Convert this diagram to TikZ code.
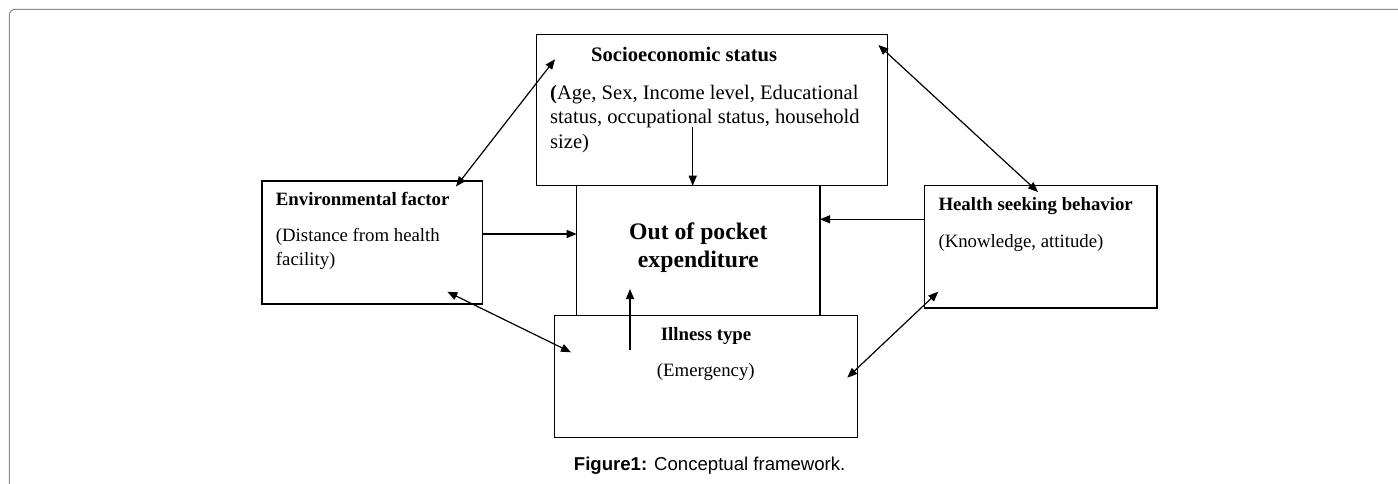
\documentclass[tikz,border=0pt]{standalone}
\usepackage{fontspec}
\setmainfont{Liberation Serif}
\newfontfamily\capfont{Liberation Sans}
\usetikzlibrary{arrows.meta}
\begin{document}
\begin{tikzpicture}[x=1pt,y=-1pt,
  box/.style={draw, line width=1.2pt, inner sep=0, outer sep=0, anchor=north west},
  conn/.style={line width=1.2pt, -{Triangle[length=10pt,width=8pt]}},
  biconn/.style={line width=1.2pt, {Triangle[length=10pt,width=8pt]}-{Triangle[length=10pt,width=8pt]}},
  txt/.style={anchor=base west, inner sep=0, font=\fontsize{18.8}{22}\selectfont},
  ttl/.style={anchor=base west, inner sep=0, font=\fontsize{18.8}{22}\selectfont\bfseries},
  stxt/.style={anchor=base west, inner sep=0, font=\fontsize{20.6}{24}\selectfont},
  sttl/.style={anchor=base west, inner sep=0, font=\fontsize{20.6}{24}\selectfont\bfseries},
  big/.style={anchor=base, inner sep=0, font=\fontsize{23.7}{28}\selectfont\bfseries},
  captxt/.style={anchor=base west, inner sep=0, font=\fontsize{18.6}{22}\capfont}
]
\useasboundingbox (0,0) rectangle (1398,484);
% outer frame
\draw[draw=gray!90, line width=1pt, rounded corners=6pt] (9.3,490) -- (9.3,9.3) -- (1405,9.3);

% boxes
\node[box, minimum width=243.3pt, minimum height=129.6pt] (oop) at (576.7,185.7) {};
\node[box, minimum width=351pt, minimum height=151.4pt] (socio) at (536.7,34.3) {};
\node[box, minimum width=220.3pt, minimum height=123pt] (env) at (262,181) {};
\node[box, minimum width=232.7pt, minimum height=122.3pt] (health) at (924.3,185.7) {};
\node[box, minimum width=303.2pt, minimum height=122.4pt] (ill) at (554.5,315.3) {};

% texts
\node[sttl] (socioT) at (591,61.7) {Socioeconomic status};
\node[stxt] (socio1) at (550,99.3) {\textbf{(}Age, Sex, Income level, Educational};
\node[stxt] (socio2) at (550,124) {status, occupational status, household};
\node[stxt] (socio3) at (550,148.3) {size)};

\node[ttl] (envT) at (275.7,205) {Environmental factor};
\node[txt] (env1) at (275.7,241.7) {(Distance from health};
\node[txt] (env2) at (275.7,265) {facility)};

\node[ttl] (healthT) at (938.3,210) {Health seeking behavior};
\node[txt] (health1) at (938.3,247.3) {(Knowledge, attitude)};

\node[ttl] (illT) at (660.7,340) {Illness type};
\node[txt] (ill1) at (656.7,376.5) {(Emergency)};

\node[big] (oop1) at (698.3,239.3) {Out of pocket};
\node[big] (oop2) at (698.3,267.3) {expenditure};

\node[captxt] (caption) at (573.7,470) {\textbf{Figure1:} Conceptual framework.};

% connector end points
\coordinate (a1) at (456,186.5);
\coordinate (a2) at (555,59.3);
\coordinate (b1) at (878.4,45);
\coordinate (b2) at (1038,192);
\coordinate (c1) at (692.7,126.7);
\coordinate (d1) at (630,350);
\coordinate (d2) at (630,289);
\coordinate (e1) at (447.3,291.7);
\coordinate (e2) at (571,352.3);
\coordinate (f1) at (847.3,377.7);
\coordinate (f2) at (938.3,291.7);

% connectors
\draw[biconn] (a2) -- (a1);
\draw[biconn] (b1) -- (b2);
\draw[conn] (c1) -- (c1 |- socio.south);
\draw[conn] (env.east |- 0,234) -- (oop.west |- 0,234);
\draw[conn] (health.west |- 0,219.3) -- (oop.east |- 0,219.3);
\draw[conn] (d1) -- (d2);
\draw[biconn] (e1) -- (e2);
\draw[biconn] (f1) -- (f2);
\end{tikzpicture}
\end{document}
